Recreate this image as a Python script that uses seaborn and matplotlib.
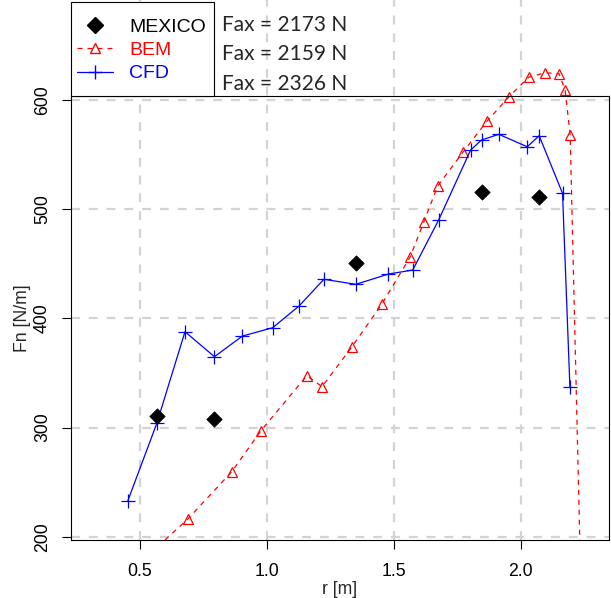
import numpy as np
import pandas as pd
import matplotlib
matplotlib.use('Agg')
import matplotlib.pyplot as plt
import seaborn as sns
from matplotlib.lines import Line2D
from matplotlib.patches import Rectangle

# MEXICO measurements
mex_r = [0.566, 0.791, 1.350, 1.845, 2.071]
mex_fn = [310.6, 307.5, 450.4, 516.0, 510.9]

# BEM (first and last entries are where the line leaves the plot, no marker)
bem_r = [0.598, 0.688, 0.861, 0.976, 1.157, 1.217, 1.333, 1.452, 1.563, 1.618, 1.672,
         1.773, 1.866, 1.953, 2.030, 2.096, 2.150, 2.174, 2.194, 2.232]
bem_fn = [197.0, 216.2, 259.5, 297.1, 347.5, 337.4, 373.5, 412.9, 455.9, 488.5, 521.2,
          552.6, 580.5, 603.0, 620.8, 625.0, 624.1, 609.4, 568.2, 197.0]

# CFD
cfd_r = [0.452, 0.566, 0.677, 0.793, 0.903, 1.022, 1.126, 1.224, 1.350, 1.478, 1.574,
         1.676, 1.802, 1.845, 1.913, 2.025, 2.072, 2.164, 2.193]
cfd_fn = [233.0, 303.9, 387.8, 364.9, 383.8, 391.4, 411.3, 435.8, 431.2, 440.6, 444.3,
          490.1, 554.2, 563.4, 568.6, 557.2, 567.3, 514.5, 337.4]

fax_text = ['Fax = 2173 N', 'Fax = 2159 N', 'Fax = 2326 N']

sns.set_style('white')
plt.rcParams['font.family'] = ['Liberation Sans', 'DejaVu Sans']

fig = plt.figure(figsize=(6.11, 5.98), dpi=100)
ax = fig.add_axes([71/611, 1-540/598, 538/611, 444/598])

bem = pd.DataFrame({'r': bem_r, 'fn': bem_fn})
cfd = pd.DataFrame({'r': cfd_r, 'fn': cfd_fn})
mex = pd.DataFrame({'r': mex_r, 'fn': mex_fn})

# grid (vertical lines run on up to the top of the figure, like the original)
for gx in [0.5, 1.0, 1.5, 2.0]:
    ax.axvline(gx, ymin=0, ymax=1 + 96/444, color='#d3d3d3', lw=1.6,
               ls=(0, (4, 4)), zorder=0, clip_on=False)
for gy in [200, 300, 400, 500, 600]:
    ax.axhline(gy, color='#d3d3d3', lw=1.6, ls=(0, (4, 4)), zorder=0)

sns.lineplot(data=bem, x='r', y='fn', sort=False, color='red', lw=0.9,
             ax=ax, estimator=None)
ax.lines[-1].set_dashes((4, 4))
ax.lines[-1].set_clip_on(False)
ax.plot(bem['r'][1:-1], bem['fn'][1:-1], ls='none', marker='^', ms=7,
        mfc='none', mec='red', mew=0.9, clip_on=False)

sns.lineplot(data=cfd, x='r', y='fn', sort=False, color='blue', lw=0.9,
             ax=ax, estimator=None)
ax.plot(cfd['r'], cfd['fn'], ls='none', marker='+', ms=10, mec='blue', mew=0.9)

sns.scatterplot(data=mex, x='r', y='fn', marker='D', s=60, color='black',
                edgecolor='black', ax=ax, zorder=5)

ax.set_xlim(0.228, 2.347)
ax.set_ylim(197, 603.7)
ax.set_xticks([0.5, 1.0, 1.5, 2.0])
ax.set_xticklabels(['0.5', '1.0', '1.5', '2.0'])
ax.set_yticks([200, 300, 400, 500, 600])
ax.set_yticklabels(['200', '300', '400', '500', '600'], rotation=90, va='center')
ax.tick_params(direction='out', length=6.5, width=0.8, labelsize=12.7, colors='black',
               bottom=True, left=True)
ax.tick_params(axis='x', pad=10)
ax.tick_params(axis='y', pad=8)
for s in ax.spines.values():
    s.set_color('black')
    s.set_linewidth(0.8)
ax.set_xlabel('r [m]', fontsize=12.7, labelpad=1)
ax.set_ylabel('Fn [N/m]', fontsize=12.7, labelpad=2)

# legend box sits on top of the plot, outside it
box = Rectangle((71/611, 1-96/598), 143/611, 94/598, transform=fig.transFigure,
                facecolor='white', edgecolor='black', lw=0.8, zorder=2)
fig.patches.append(box)

handles = [
    Line2D([], [], ls='none', marker='D', ms=8, color='black'),
    Line2D([], [], ls=(0, (4, 4)), lw=0.9, color='red', marker='^', ms=7, mfc='none', mec='red'),
    Line2D([], [], ls='-', lw=0.9, color='blue', marker='+', ms=10, mec='blue'),
]
leg = fig.legend(handles, ['MEXICO', 'BEM', 'CFD'], loc='upper left',
                 bbox_to_anchor=(77/611, 1-18/598), borderaxespad=0, fontsize=14,
                 labelcolor=['black', 'red', 'blue'], frameon=False,
                 handlelength=1.85, handletextpad=0.85, labelspacing=0.3, borderpad=0)
leg.set_zorder(3)

for i, t in enumerate(fax_text):
    fig.text(222/611, 1 - (25 + i*29.5)/598, t, fontsize=15,
             family=['Lato', 'DejaVu Sans'], va='center', ha='left', zorder=3)

fig.savefig('out.png', dpi=100)
